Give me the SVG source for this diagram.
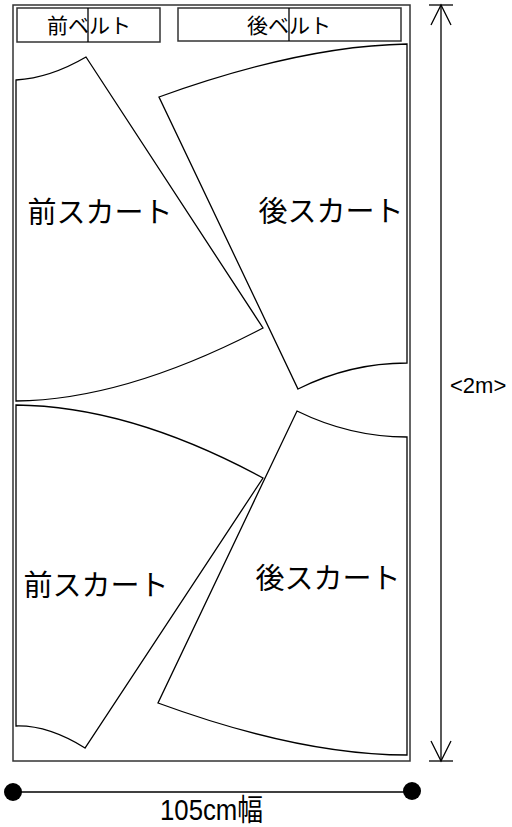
<svg xmlns="http://www.w3.org/2000/svg" width="512" height="827" viewBox="0 0 512 827">
<style>
.ln{fill:none;stroke:#000;stroke-width:1.3}
.bx{fill:none;stroke:#333;stroke-width:1.5}
.lbl{font-family:"Noto Sans CJK JP",sans-serif;fill:#000}
.dim{font-family:"Liberation Sans","Noto Sans CJK JP",sans-serif;fill:#000}
</style>
<rect width="512" height="827" fill="#fff"/>
<g id="fabric"><rect class="bx" x="13" y="5" width="397" height="756"/></g>
<g id="front-belt">
<rect class="bx" x="17" y="8" width="143" height="34"/>
<line class="ln" x1="88" y1="8" x2="88" y2="42"/>
<text class="lbl" x="89" y="33" font-size="21" text-anchor="middle">前ベルト</text>
</g>
<g id="back-belt">
<rect class="bx" x="178" y="8" width="223" height="33"/>
<line class="ln" x1="289" y1="8" x2="289" y2="41"/>
<text class="lbl" x="289" y="33" font-size="21" text-anchor="middle">後ベルト</text>
</g>
<g id="front-skirt-1">
<path class="ln" d="M16,80 Q50,78 86,57 L263,328 Q125,400 16,401 Z"/>
<text class="lbl" x="100" y="223" font-size="29" text-anchor="middle">前スカート</text>
</g>
<g id="back-skirt-1">
<path class="ln" d="M159,97 Q300,46 407,44 L407,363 Q350,363 298,389 Z"/>
<text class="lbl" x="331" y="222" font-size="29" text-anchor="middle">後スカート</text>
</g>
<g id="front-skirt-2">
<path class="ln" d="M16,405 Q130,406 263,478 L85,748 Q48,725 16,726 Z"/>
<text class="lbl" x="96" y="596" font-size="29" text-anchor="middle">前スカート</text>
</g>
<g id="back-skirt-2">
<path class="ln" d="M297,411 Q350,437 407,437 L407,755 Q300,755 158,703 Z"/>
<text class="lbl" x="328" y="589" font-size="29" text-anchor="middle">後スカート</text>
</g>
<g id="connectors">
<line class="ln" x1="441" y1="5" x2="441" y2="761"/>
<line class="ln" x1="429" y1="5" x2="453" y2="5"/>
<line class="ln" x1="429" y1="761" x2="453" y2="761"/>
<polyline class="ln" points="431,25 441,5 451,25"/>
<polyline class="ln" points="431,741 441,761 451,741"/>
<line class="ln" x1="13" y1="792" x2="412" y2="792"/>
<circle cx="13" cy="792" r="9" fill="#000"/>
<circle cx="412" cy="791" r="9" fill="#000"/>
</g>
<g id="dimension-labels">
<text class="dim" x="450" y="393" font-size="22">&lt;2m&gt;</text>
<text class="dim" x="160" y="820" font-size="30" textLength="103" lengthAdjust="spacingAndGlyphs">105cm幅</text>
</g>
</svg>
